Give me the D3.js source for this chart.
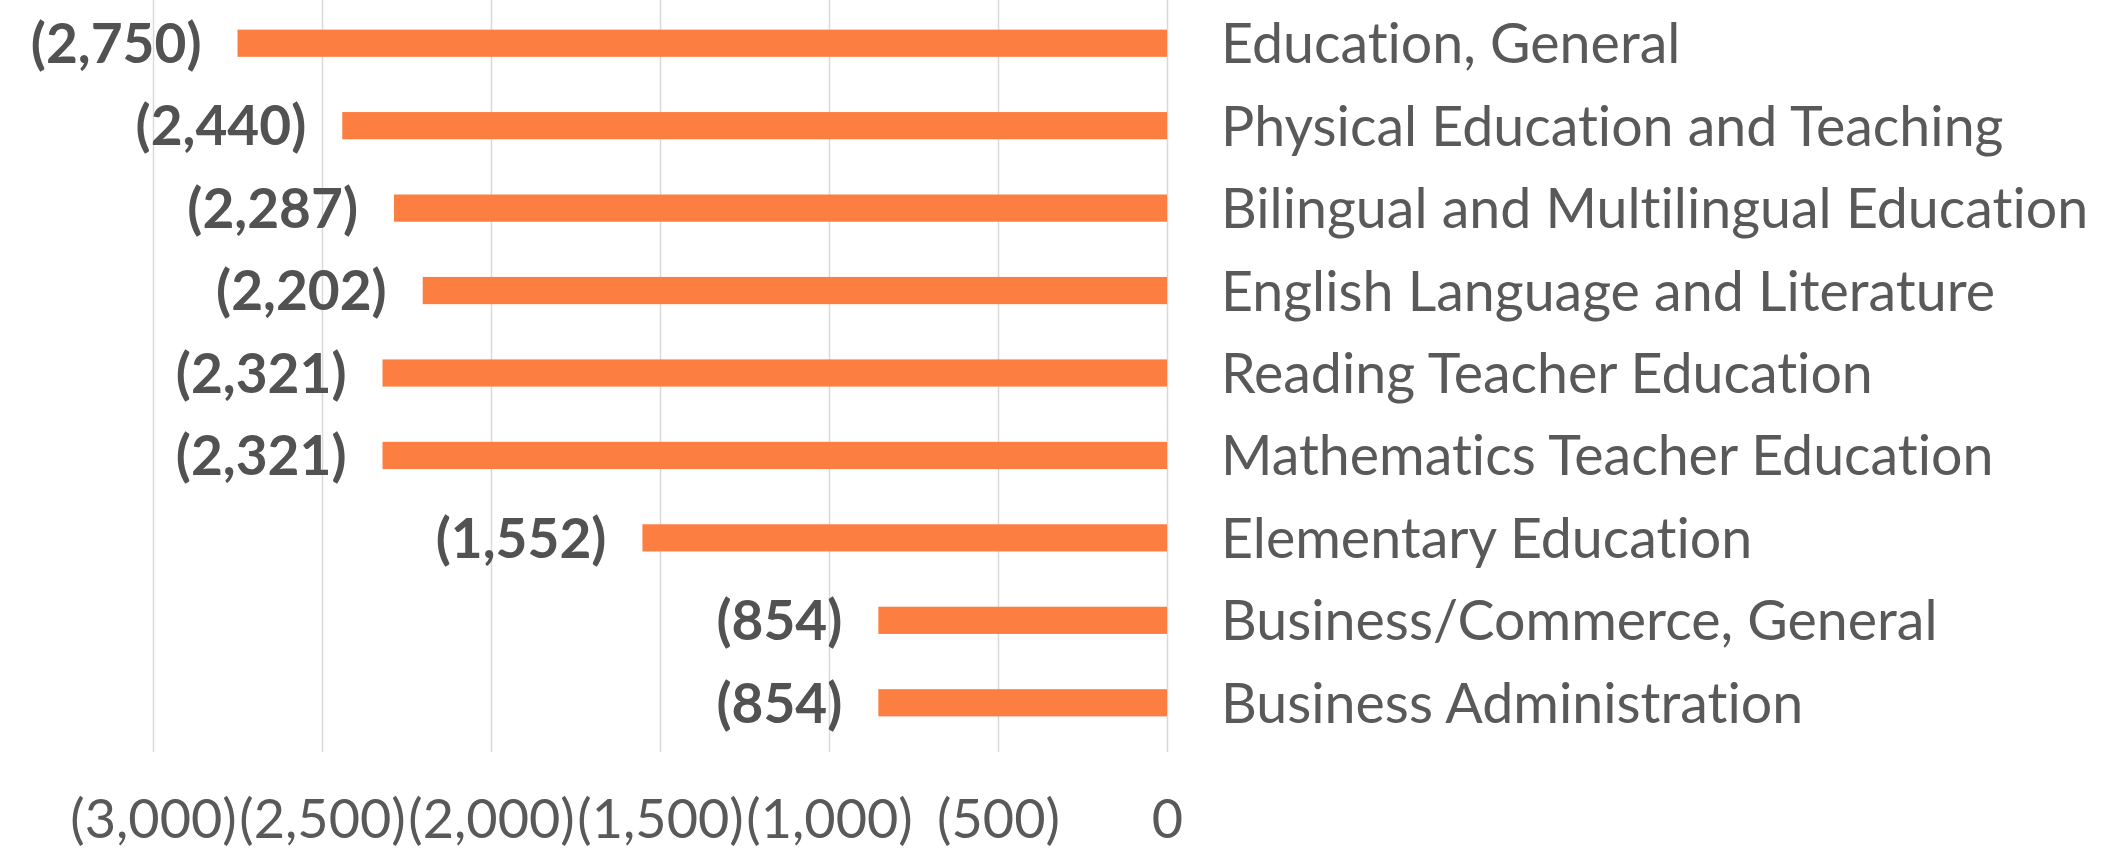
<!DOCTYPE html>
<html>
<head>
<meta charset="utf-8">
<script src="https://cdn.jsdelivr.net/npm/d3@7"></script>
<style>
  html, body { margin: 0; padding: 0; background: #ffffff; }
  svg { display: block; }
  text { font-family: Lato, "Open Sans", sans-serif; font-variant-ligatures: none; }
</style>
</head>
<body>
<svg id="chart" width="2116" height="853"></svg>
<script>
// Fields of study and their (negative) change values
const categories = [
  "Education, General",
  "Physical Education and Teaching",
  "Bilingual and Multilingual Education",
  "English Language and Literature",
  "Reading Teacher Education",
  "Mathematics Teacher Education",
  "Elementary Education",
  "Business/Commerce, General",
  "Business Administration"
];
const values = [-2750, -2440, -2287, -2202, -2321, -2321, -1552, -854, -854];
const tickValues = [-3000, -2500, -2000, -1500, -1000, -500, 0];

const svg = d3.select("#chart");

const x = d3.scaleLinear().domain([-3000, 0]).range([153, 1167]);
const y = d3.scaleBand()
  .domain(categories)
  .range([2, 744])
  .paddingInner(0.67)
  .paddingOuter(0.335);

// Accounting-style number format: negatives in parentheses
const acct = v => v === 0 ? "0" : (v < 0 ? "(" + d3.format(",")(-v) + ")" : d3.format(",")(v));

// Vertical gridlines and tick labels
const gridBottom = 752;
const axis = svg.append("g")
  .attr("transform", `translate(0,${gridBottom})`)
  .call(d3.axisBottom(x).tickValues(tickValues).tickSize(-gridBottom).tickFormat(acct));
axis.select(".domain").remove();
axis.selectAll(".tick line").attr("stroke", "#d9d9d9").attr("stroke-width", 1.5);
axis.selectAll(".tick text")
  .attr("y", 67)
  .attr("dy", "0.35em")
  .attr("fill", "#595959")
  .style("font-size", "54px")
  .style("font-family", "Lato, sans-serif");

// Bars
svg.append("g").selectAll("rect")
  .data(values)
  .join("rect")
  .attr("x", d => x(d))
  .attr("y", (d, i) => y(categories[i]))
  .attr("width", d => x(0) - x(d))
  .attr("height", y.bandwidth())
  .attr("fill", "#fd7e41");

// Value labels left of the bars
svg.append("g").selectAll("text")
  .data(values)
  .join("text")
  .attr("x", d => x(d) - 36)
  .attr("y", (d, i) => y(categories[i]) + y.bandwidth() / 2)
  .attr("dy", "0.36em")
  .attr("text-anchor", "end")
  .attr("fill", "#525252")
  .style("font-size", "55px")
  .style("font-weight", "bold")
  .text(acct);

// Category labels right of the zero line
svg.append("g").selectAll("text")
  .data(categories)
  .join("text")
  .attr("x", 1221)
  .attr("y", d => y(d) + y.bandwidth() / 2)
  .attr("dy", "0.36em")
  .attr("fill", "#595959")
  .style("font-size", "55.5px")
  .text(d => d);
</script>
</body>
</html>
